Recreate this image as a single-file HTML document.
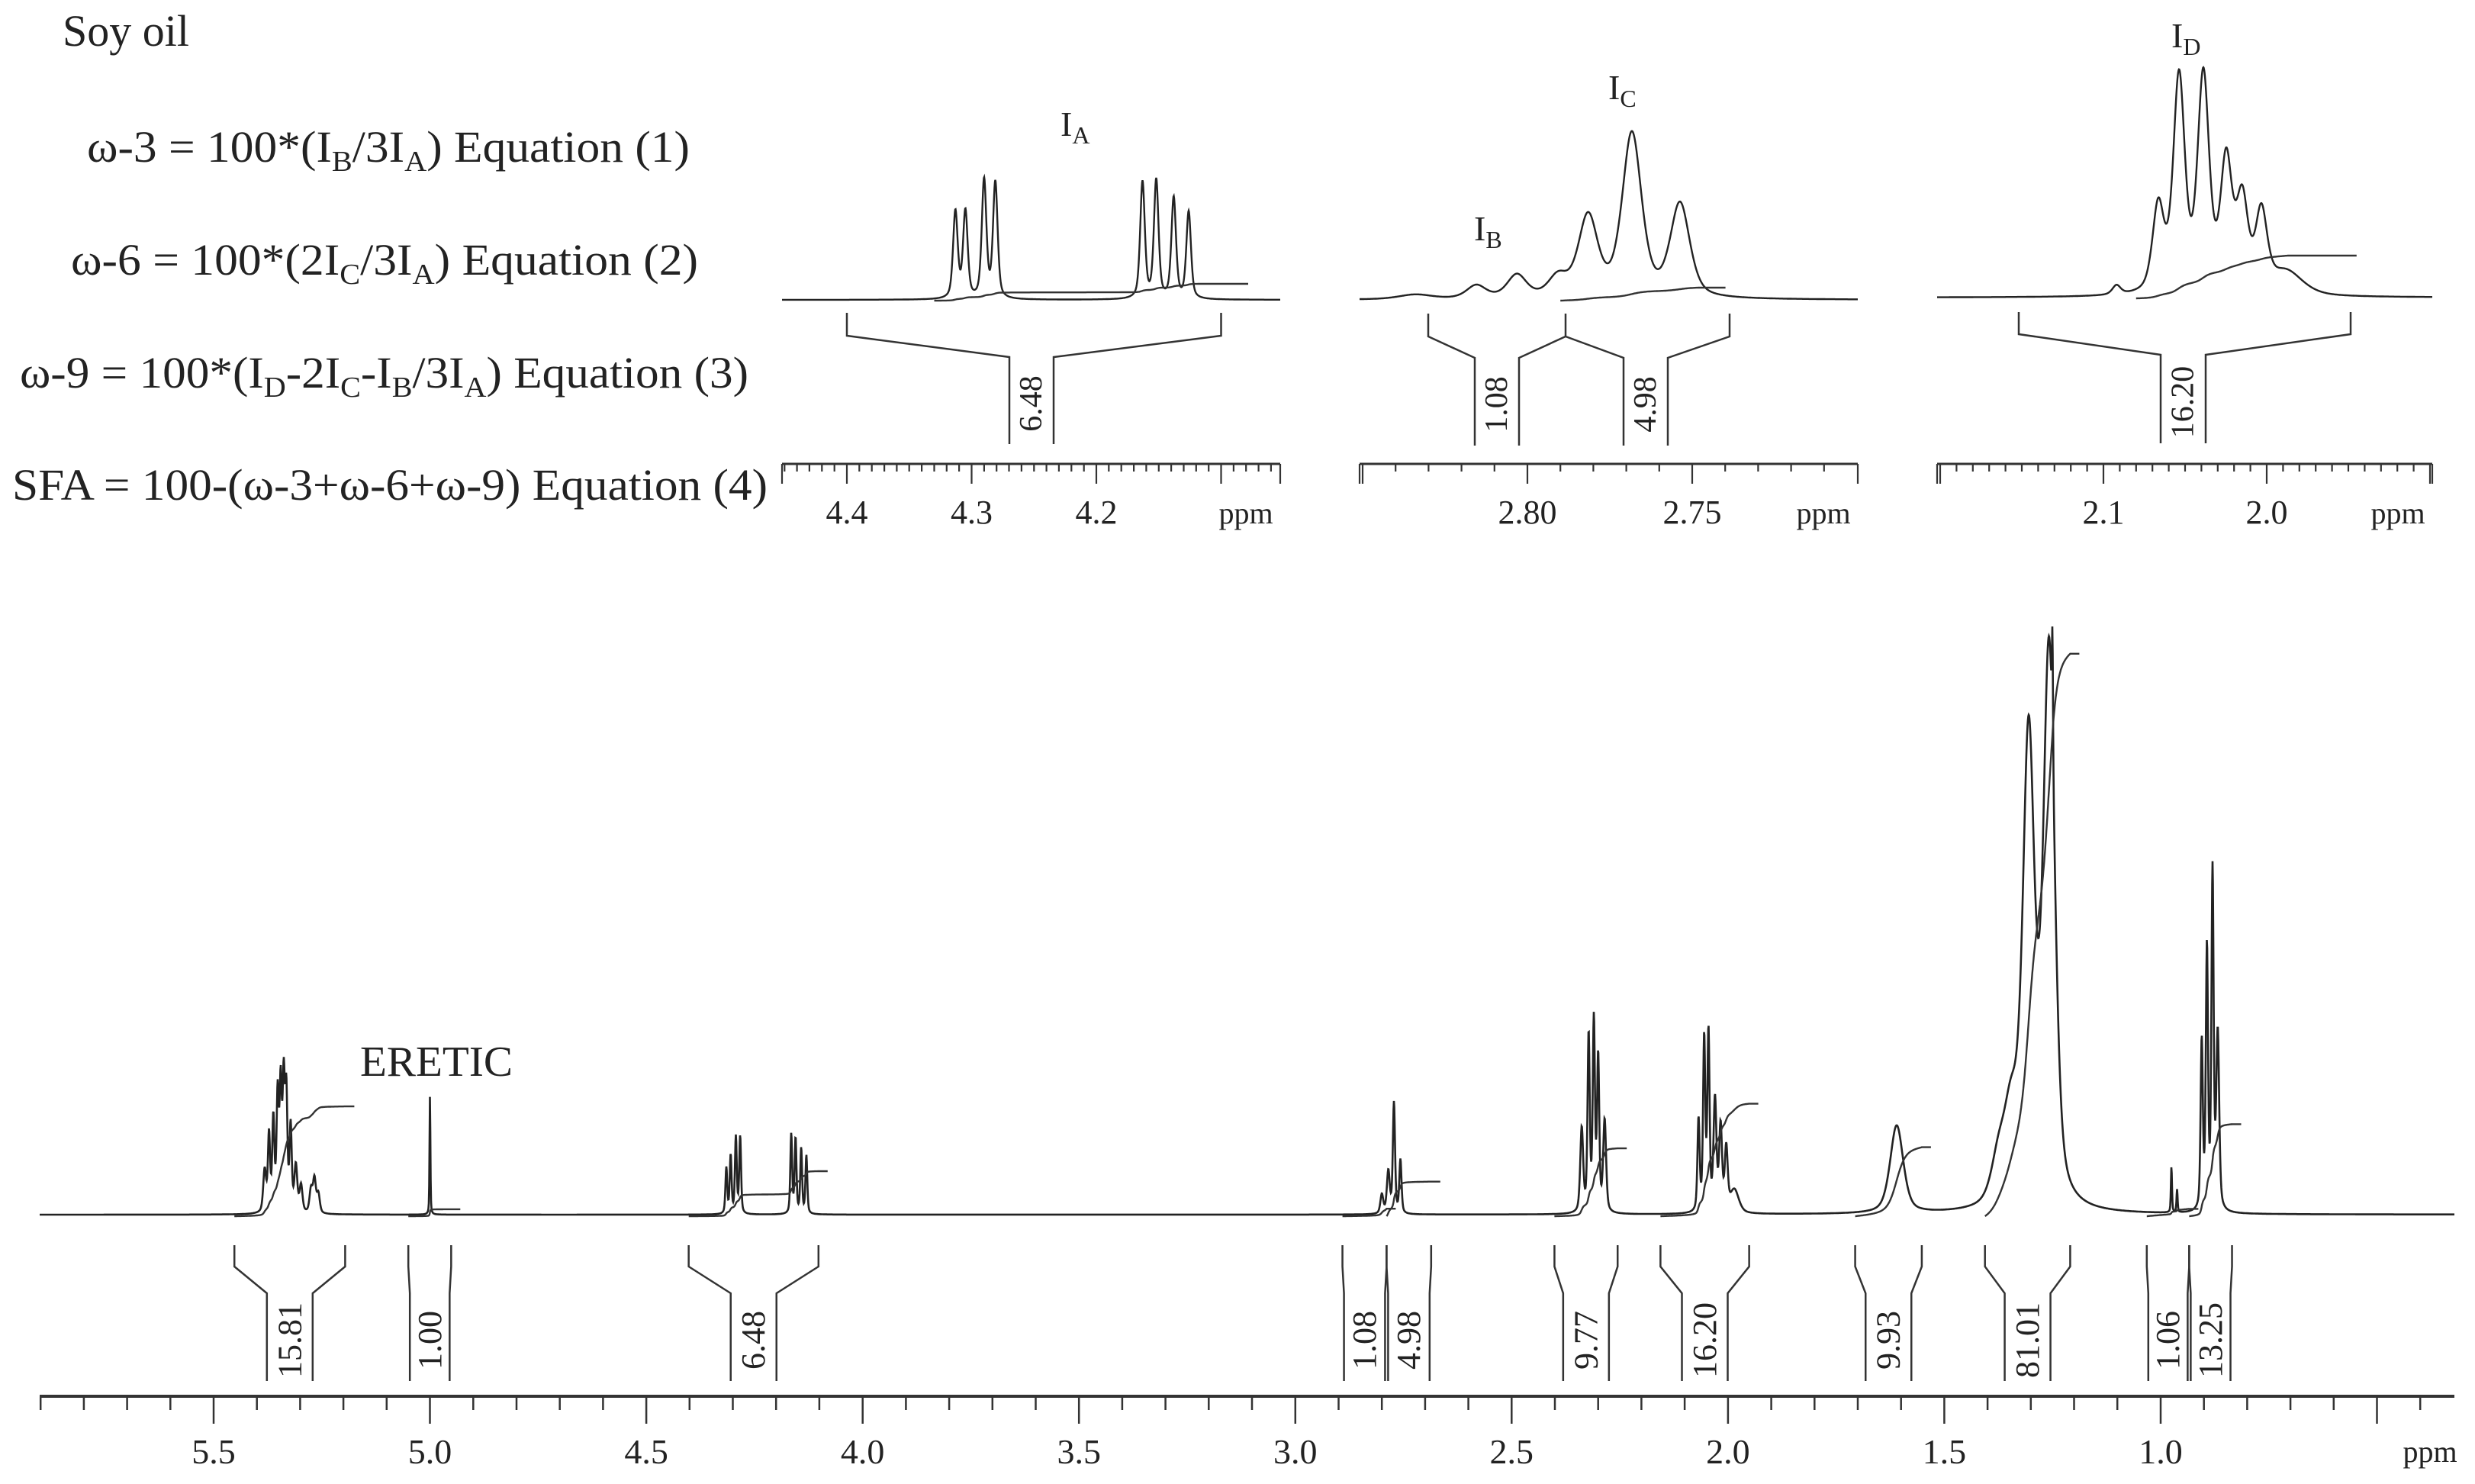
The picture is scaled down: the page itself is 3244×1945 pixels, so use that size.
<!DOCTYPE html>
<html><head><meta charset="utf-8"><title>Soy oil 1H NMR</title>
<style>
html,body{margin:0;padding:0;background:#fff;}
svg{display:block;}
text{font-family:"Liberation Serif","DejaVu Serif",serif;fill:#222;}
</style></head>
<body>
<svg id="chart" xmlns="http://www.w3.org/2000/svg" width="3244" height="1945" viewBox="0 0 3244 1945">
<rect width="3244" height="1945" fill="#fff"/>
<g font-size="58">
<text x="82" y="60" font-size="58">Soy oil</text>
<text x="114" y="212" textLength="790" lengthAdjust="spacingAndGlyphs">ω-3 = 100*(I<tspan font-size="38" dy="12">B</tspan><tspan dy="-12">/3I</tspan><tspan font-size="38" dy="12">A</tspan><tspan dy="-12">)  Equation (1)</tspan></text>
<text x="93" y="360" textLength="822" lengthAdjust="spacingAndGlyphs">ω-6 = 100*(2I<tspan font-size="38" dy="12">C</tspan><tspan dy="-12">/3I</tspan><tspan font-size="38" dy="12">A</tspan><tspan dy="-12">) Equation (2)</tspan></text>
<text x="26" y="508" textLength="955" lengthAdjust="spacingAndGlyphs">ω-9 = 100*(I<tspan font-size="38" dy="12">D</tspan><tspan dy="-12">-2I</tspan><tspan font-size="38" dy="12">C</tspan><tspan dy="-12">-I</tspan><tspan font-size="38" dy="12">B</tspan><tspan dy="-12">/3I</tspan><tspan font-size="38" dy="12">A</tspan><tspan dy="-12">)  Equation (3)</tspan></text>
<text x="16" y="655" textLength="990" lengthAdjust="spacingAndGlyphs">SFA = 100-(ω-3+ω-6+ω-9) Equation (4)</text>
</g>
<g id="main"></g>
<g id="insetA"></g>
<g id="insetB"></g>
<g id="insetC"></g>
</svg>
<script>
// ---------- main spectrum data ----------
const mainPeakPpm    = [5.382,5.372,5.362,5.352,5.345,5.338,5.332,5.322,5.31,5.298,5.275,5.267,5.258,
  5.000,
  4.315,4.305,4.293,4.283, 4.165,4.155,4.142,4.130,
  2.80,2.785,2.772,2.757,
  2.338,2.322,2.310,2.300,2.285,
  2.068,2.055,2.045,2.030,2.017,2.004,1.985,
  1.610,
  1.375,1.345,1.305,1.258,1.250,
  0.975,0.962,
  0.905,0.893,0.880,0.868];
const mainPeakHeight = [55,100,120,150,160,165,150,110,60,35,30,44,25,
  155,
  60,76,100,101, 104,98,85,76,
  25,55,145,70,
  110,230,248,200,120,
  120,225,232,145,110,80,30,
  115,
  55,110,600,720,150,
  60,30,
  220,340,440,230];
const mainPeakWidth  = [0.004,0.003,0.003,0.003,0.003,0.003,0.003,0.003,0.004,0.004,0.004,0.004,0.004,
  0.0012,
  0.0025,0.0025,0.0025,0.0025, 0.0025,0.0025,0.0025,0.0025,
  0.004,0.004,0.003,0.003,
  0.004,0.003,0.003,0.003,0.004,
  0.003,0.003,0.003,0.004,0.004,0.004,0.012,
  0.018,
  0.02,0.02,0.016,0.016,0.0015,
  0.0015,0.0015,
  0.003,0.003,0.003,0.004];
const integralValues = ["15.81","1.00","6.48","1.08","4.98","9.77","16.20","9.93","81.01","1.06","13.25"];
const integralStart  = [5.452,5.050,4.402,2.891,2.789,2.401,2.156,1.706,1.406,1.032,0.934];
const integralEnd    = [5.196,4.951,4.102,2.789,2.686,2.255,1.951,1.552,1.209,0.934,0.835];
const mainTickLabels = ["5.5","5.0","4.5","4.0","3.5","3.0","2.5","2.0","1.5","1.0"];
const mainTickValues = [5.5,5.0,4.5,4.0,3.5,3.0,2.5,2.0,1.5,1.0];

// ---------- inset data ----------
const aPeakPpm = [4.313,4.305,4.290,4.281,4.163,4.152,4.138,4.126];
const aPeakHeight = [114,114,155,152,153,155,132,114];
const aPeakWidth = [0.0022,0.0022,0.0022,0.0022,0.0022,0.0022,0.0022,0.0022];
const aIntegralLabel = ["6.48"];
const aTickLabels = ["4.4","4.3","4.2"];
const aTickValues = [4.4,4.3,4.2];

const bPeakPpm = [2.834,2.8155,2.8032,2.7907,2.7816,2.7683,2.7537];
const bPeakHeight = [6,17,30,26,105,214,122];
const bPeakWidth = [0.006,0.0035,0.0035,0.0035,0.0035,0.0035,0.0035];
const bIntegralLabels = ["1.08","4.98"];
const bTickLabels = ["2.80","2.75"];
const bTickValues = [2.80,2.75];

const cPeakPpm = [2.092,2.0664,2.0537,2.0388,2.0248,2.0150,2.0033,1.988];
const cPeakHeight = [12,112,280,280,168,118,100,30];
const cPeakWidth = [0.003,0.0042,0.0042,0.0042,0.0042,0.0042,0.0042,0.012];
const cIntegralLabel = ["16.20"];
const cTickLabels = ["2.1","2.0"];
const cTickValues = [2.1,2.0];

const NS = "http://www.w3.org/2000/svg";
function mk(parent, tag, attrs){
  const e = document.createElementNS(NS, tag);
  for (const k in attrs) e.setAttribute(k, attrs[k]);
  parent.appendChild(e);
  return e;
}
function shape(p, x0, h, w){
  const d = (p - x0) / w;
  return h * (0.5 / (1 + d*d) + 0.5 * Math.exp(-0.693 * d * d));
}
function specAt(p, ppm, hts, wid){
  let s = 0;
  for (let i = 0; i < ppm.length; i++) s += shape(p, ppm[i], hts[i], wid[i]);
  return s;
}
function integralPath(xf, baseY, p0, p1, total, ppm, hts, wid, extra){
  const n = 200; let cum = [0]; let acc = 0;
  for (let i = 1; i <= n; i++){
    const p = p0 + (p1 - p0) * i / n;
    acc += specAt(p, ppm, hts, wid); cum.push(acc);
  }
  let d = "";
  for (let i = 0; i <= n; i++){
    const p = p0 + (p1 - p0) * i / n;
    const y = baseY - cum[i] / acc * total;
    d += (i ? "L" : "M") + xf(p).toFixed(1) + " " + y.toFixed(1);
  }
  if (extra) d += "L" + (xf(p1) + extra).toFixed(1) + " " + (baseY - total).toFixed(1);
  return d;
}
function bracket(g, x1, x2, xi1, xi2, yTop, yCorner, yInner, yBot, label, fs, name){
  mk(g, "path", {d:`M${x1} ${yTop}L${x1} ${yCorner}L${xi1} ${yInner}L${xi1} ${yBot}M${x2} ${yTop}L${x2} ${yCorner}L${xi2} ${yInner}L${xi2} ${yBot}`,
    fill:"none", stroke:"#333", "stroke-width":2.5,  });
  const cx = (xi1 + xi2) / 2, cy = (yInner + yBot) / 2 + 4;
  const t = mk(g, "text", {x:cx, y:cy, "font-size":fs, "text-anchor":"middle", "dominant-baseline":"central",
    transform:`rotate(-90 ${cx} ${cy})`});
  
  
  t.textContent = label;
}

// ---------- main panel ----------
(function(){
  const g = document.getElementById("main");
  const xm = p => 280 + (5.5 - p) * 567.1;
  const base = 1592;
  let d = "";
  for (let x = 52; x <= 3217; x += 0.5){
    const p = 5.5 - (x - 280) / 567.1;
    const y = base - specAt(p, mainPeakPpm, mainPeakHeight, mainPeakWidth);
    d += (x === 52 ? "M" : "L") + x + " " + y.toFixed(1);
  }
  const sp = mk(g, "path", {d:d, fill:"none", stroke:"#222", "stroke-width":2.6});
  
  
  for (let i = 0; i < integralValues.length; i++){
    const tot = parseFloat(integralValues[i]) * 9.1;
    const ip = mk(g, "path", {d: integralPath(xm, base + 2, integralStart[i], integralEnd[i], tot, mainPeakPpm, mainPeakHeight, mainPeakWidth, 12),
      fill:"none", stroke:"#333", "stroke-width":2.4});
    
    
    const x1 = xm(integralStart[i]), x2 = xm(integralEnd[i]);
    const w = x2 - x1;
    const iw = Math.min(60, w - 4);
    const cx = (x1 + x2) / 2;
    bracket(g, x1, x2, cx - iw/2, cx + iw/2, 1632, 1660, 1695, 1810, integralValues[i], 44, 'integral-' + integralValues[i]);
  }
  const ax = mk(g, "line", {x1:52, x2:3217, y1:1830, y2:1830, stroke:"#333", "stroke-width":4});
  
  
  let td = "";
  for (let k = 0; k <= 56; k++){
    const p = 5.9 - k * 0.1;
    const x = xm(p);
    if (x < 52 || x > 3217) continue;
    const major = Math.abs(Math.round(p * 10) % 5) === 0;
    td += `M${x.toFixed(1)} 1830L${x.toFixed(1)} ${major ? 1866 : 1848}`;
  }
  const tk = mk(g, "path", {d:td, stroke:"#333", "stroke-width":2.5});
  
  
  for (let i = 0; i < mainTickLabels.length; i++){
    const t = mk(g, "text", {x:xm(mainTickValues[i]), y:1918, "font-size":46, "text-anchor":"middle"});
    
    
    t.textContent = mainTickLabels[i];
  }
  const pl = mk(g, "text", {x:3185, y:1916, "font-size":40, "text-anchor":"middle"});
  
  
  pl.textContent = "ppm";
  const er = mk(g, "text", {x:472, y:1410, "font-size":56, textLength:200, lengthAdjust:"spacingAndGlyphs"});
  
  
  er.textContent = "ERETIC";
})();

// ---------- inset helper ----------
function inset(id, cfg){
  const g = document.getElementById(id);
  const xf = p => cfg.x0 + (cfg.p0 - p) * cfg.scale;
  const wid = cfg.wid;
  let d = "";
  for (let x = cfg.xl; x <= cfg.xr; x += 0.5){
    const p = cfg.p0 - (x - cfg.x0) / cfg.scale;
    const y = cfg.base - specAt(p, cfg.ppm, cfg.hts, wid);
    d += (x === cfg.xl ? "M" : "L") + x + " " + y.toFixed(1);
  }
  const sp = mk(g, "path", {d:d, fill:"none", stroke:"#222", "stroke-width":2.4});
  
  
  const ip = mk(g, "path", {d: integralPath(xf, cfg.base + 1, cfg.i0, cfg.i1, cfg.itot, cfg.ppm, cfg.hts, wid, cfg.iext),
    fill:"none", stroke:"#333", "stroke-width":2.4});
  
  
  const ax = mk(g, "line", {x1:cfg.xl, x2:cfg.xr, y1:608, y2:608, stroke:"#333", "stroke-width":3});
  
  
  let td = `M${cfg.xl} 608L${cfg.xl} 634M${cfg.xr} 608L${cfg.xr} 634`;
  const n = Math.round((cfg.p0 - cfg.pEnd) / cfg.minor);
  for (let k = 0; k <= n + 10; k++){
    const p = cfg.pStart - k * cfg.minor;
    const x = xf(p);
    if (x < cfg.xl + 3 || x > cfg.xr - 3) continue;
    const r = Math.round(p / cfg.minor);
    const major = Math.abs(r % cfg.majorEvery) === 0;
    td += `M${x.toFixed(1)} 608L${x.toFixed(1)} ${major ? 634 : 618}`;
  }
  const tk = mk(g, "path", {d:td, stroke:"#333", "stroke-width":2.2});
  
  
  for (let i = 0; i < cfg.tickLabels.length; i++){
    const t = mk(g, "text", {x:xf(cfg.tickValues[i]), y:686, "font-size":44, "text-anchor":"middle"});
    
    
    t.textContent = cfg.tickLabels[i];
  }
  const pl = mk(g, "text", {x:cfg.xr - 45, y:686, "font-size":40, "text-anchor":"middle"});
  
  
  pl.textContent = "ppm";
  return {g, xf};
}
function peakLabel(g, x, y, main, sub, name){
  const t = mk(g, "text", {x:x, y:y, "font-size":46});
  
  
  t.textContent = main;
  const s = mk(t, "tspan", {"font-size":32, dy:10});
  s.textContent = sub;
}

// Inset A
(function(){
  const r = inset("insetA", {x0:1110, p0:4.4, scale:1635, xl:1025, xr:1678, base:393,
    ppm:aPeakPpm, hts:aPeakHeight, wid:aPeakWidth, i0:4.33, i1:4.115, itot:22, iext:60,
    pStart:4.45, pEnd:4.05, minor:0.01, majorEvery:10, tickLabels:aTickLabels, tickValues:aTickValues});
  const xf = r.xf;
  bracket(r.g, xf(4.40), xf(4.10), 1323, 1381, 410, 440, 468, 582, aIntegralLabel[0], 42, 'inset-a-integral');
  peakLabel(r.g, 1390, 178, "I", "A", 'label-ia');
})();
// Inset B
(function(){
  const r = inset("insetB", {x0:2002, p0:2.80, scale:4320, xl:1782, xr:2435, base:393,
    ppm:bPeakPpm, hts:bPeakHeight, wid:bPeakWidth, i0:2.79, i1:2.748, itot:17, iext:35,
    pStart:2.85, pEnd:2.70, minor:0.01, majorEvery:5, tickLabels:bTickLabels, tickValues:bTickValues});
  const g = r.g;
  const p = mk(g, "path", {d:"M1872 411L1872 441L1933 469L1933 584M2052 411L2052 441L1991 469L1991 584M2052 441L2128 469L2128 584M2267 411L2267 441L2186 469L2186 584",
    fill:"none", stroke:"#333", "stroke-width":2.5});
  
  
  const cs = [[1962, bIntegralLabels[0]], [2157, bIntegralLabels[1]]];
  for (const c of cs){
    const t = mk(g, "text", {x:c[0], y:530, "font-size":42, "text-anchor":"middle", "dominant-baseline":"central", transform:`rotate(-90 ${c[0]} 530)`});
    
    
    t.textContent = c[1];
  }
  peakLabel(g, 1932, 315, "I", "B", 'label-ib');
  peakLabel(g, 2108, 130, "I", "C", 'label-ic');
})();
// Inset C
(function(){
  const r = inset("insetC", {x0:2757, p0:2.1, scale:2140, xl:2539, xr:3188, base:390,
    ppm:cPeakPpm, hts:cPeakHeight, wid:cPeakWidth, i0:2.08, i1:1.987, itot:56, iext:90,
    pStart:2.2, pEnd:1.9, minor:0.01, majorEvery:10, tickLabels:cTickLabels, tickValues:cTickValues});
  bracket(r.g, 2646, 3081, 2832, 2891, 409, 438, 465, 581, cIntegralLabel[0], 42, 'inset-c-integral');
  peakLabel(r.g, 2846, 62, "I", "D", 'label-id');
})();
</script>
</body></html>
